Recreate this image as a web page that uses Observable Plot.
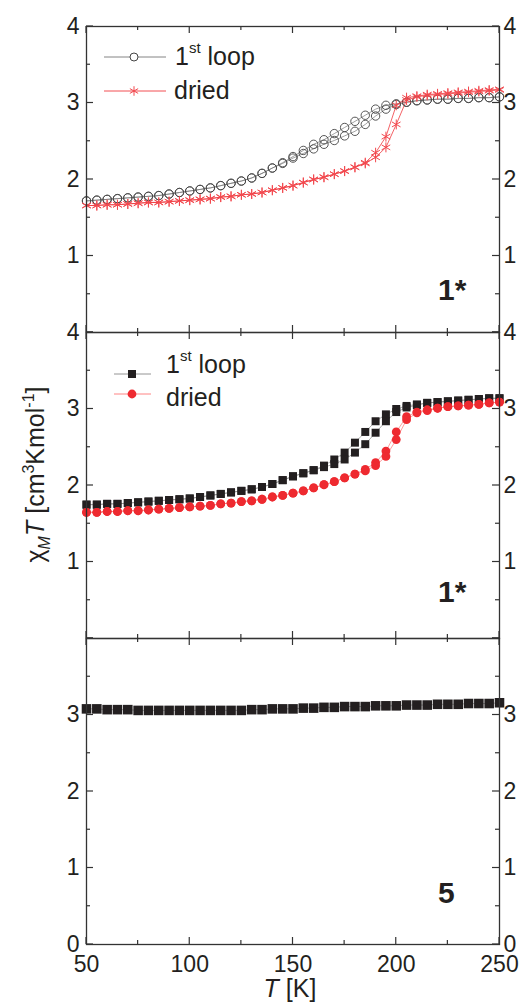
<!DOCTYPE html>
<html>
<head>
<meta charset="utf-8">
<script src="https://cdn.jsdelivr.net/npm/d3@7"></script>
<script src="https://cdn.jsdelivr.net/npm/@observablehq/plot@0.6"></script>
<style>
  body { margin: 0; background: #fff; }
  #wrap { position: relative; width: 525px; height: 1006px; overflow: hidden; background: #fff; }
  #wrap svg { position: absolute; left: 0; }
</style>
</head>
<body>
<div id="wrap"></div>
<script>
// ---------- data ----------
const T = [50,55,60,65,70,75,80,85,90,95,100,105,110,115,120,125,130,135,140,145,150,155,160,165,170,175,180,185,190,195,200,205,210,215,220,225,230,235,240,245,250];

// panel 1 (1*): 1st loop (open circles) and dried (asterisks); cooling and heating branches
const p1LoopCool  = [1.72,1.73,1.74,1.75,1.76,1.77,1.78,1.79,1.81,1.83,1.85,1.87,1.89,1.92,1.95,1.98,2.02,2.08,2.15,2.22,2.30,2.38,2.46,2.52,2.60,2.68,2.76,2.84,2.92,2.97,2.99,3.01,3.03,3.04,3.05,3.05,3.06,3.06,3.07,3.07,3.08];
const p1LoopHeat  = [1.72,1.73,1.74,1.75,1.76,1.77,1.78,1.79,1.81,1.83,1.85,1.87,1.89,1.92,1.95,1.98,2.02,2.08,2.15,2.21,2.28,2.34,2.40,2.46,2.51,2.57,2.63,2.72,2.83,2.92,2.98,3.01,3.03,3.04,3.05,3.05,3.06,3.06,3.07,3.07,3.08];
const p1DriedCool = [1.66,1.66,1.67,1.67,1.68,1.69,1.70,1.70,1.71,1.72,1.73,1.74,1.75,1.77,1.78,1.80,1.81,1.83,1.86,1.89,1.92,1.96,2.00,2.03,2.07,2.11,2.16,2.22,2.35,2.56,2.97,3.07,3.09,3.11,3.12,3.13,3.14,3.15,3.16,3.17,3.18];
const p1DriedHeat = [1.66,1.66,1.67,1.67,1.68,1.69,1.70,1.70,1.71,1.72,1.73,1.74,1.75,1.77,1.78,1.80,1.81,1.83,1.86,1.89,1.92,1.96,2.00,2.03,2.07,2.11,2.16,2.21,2.29,2.42,2.72,3.04,3.08,3.10,3.11,3.12,3.13,3.14,3.15,3.16,3.17];

// panel 2 (1*): 1st loop (filled squares) and dried (filled circles)
const p2LoopCool  = [1.75,1.75,1.76,1.76,1.77,1.78,1.79,1.80,1.81,1.82,1.83,1.85,1.87,1.89,1.91,1.93,1.95,1.98,2.02,2.07,2.12,2.16,2.20,2.26,2.34,2.43,2.56,2.70,2.84,2.93,3.00,3.04,3.06,3.08,3.09,3.10,3.11,3.12,3.13,3.14,3.14];
const p2LoopHeat  = [1.75,1.75,1.76,1.76,1.77,1.78,1.79,1.80,1.81,1.82,1.83,1.85,1.87,1.89,1.91,1.93,1.95,1.98,2.02,2.07,2.12,2.16,2.20,2.24,2.28,2.34,2.43,2.54,2.69,2.84,2.96,3.02,3.05,3.08,3.09,3.10,3.11,3.12,3.13,3.14,3.14];
const p2DriedCool = [1.65,1.65,1.66,1.66,1.67,1.67,1.68,1.69,1.70,1.71,1.72,1.73,1.74,1.76,1.77,1.79,1.80,1.82,1.85,1.87,1.90,1.93,1.97,2.01,2.05,2.10,2.15,2.21,2.30,2.45,2.70,2.90,2.96,2.99,3.01,3.03,3.04,3.05,3.06,3.08,3.09];
const p2DriedHeat = [1.65,1.65,1.66,1.66,1.67,1.67,1.68,1.69,1.70,1.71,1.72,1.73,1.74,1.76,1.77,1.79,1.80,1.82,1.85,1.87,1.90,1.93,1.97,2.01,2.05,2.10,2.15,2.19,2.26,2.38,2.60,2.86,2.95,2.98,3.01,3.03,3.04,3.05,3.06,3.08,3.09];

// panel 3 (5)
const p3Values = [3.08,3.08,3.07,3.07,3.07,3.06,3.06,3.06,3.06,3.06,3.06,3.06,3.06,3.06,3.06,3.06,3.07,3.07,3.08,3.08,3.08,3.09,3.09,3.10,3.10,3.11,3.11,3.11,3.12,3.12,3.12,3.13,3.13,3.13,3.14,3.14,3.14,3.15,3.15,3.15,3.16];

// tick labels
const xLabels = [50,100,150,200,250];
const p1YLabels = [1,2,3,4];
const p2YLabels = [1,2,3,4];
const p3YLabels = [0,1,2,3];
const xMajor = [50,100,150,200,250];
const xMinor = [75,125,175,225];
const yMajor = [0,1,2,3,4];
const yMinor = [0.5,1.5,2.5,3.5];

// ---------- helpers ----------
const INK = "#231f20";
const FONT = "'Liberation Sans', Arial, Helvetica, sans-serif";
const RED = "#ee2a30";
const fmt = d => String(d);

function loopRows(cool, heat) {
  const rows = [];
  for (let i = T.length - 1; i >= 0; i--) rows.push({T: T[i], v: cool[i]});
  for (let i = 0; i < T.length; i++) rows.push({T: T[i], v: heat[i]});
  return rows;
}

function panel({mt, mb, yLabels, withX, marks}) {
  const m = [
    ...marks,
    Plot.frame({stroke: "#333", strokeWidth: 1.3}),
    Plot.axisY(yLabels, {anchor: "left", tickSize: 0, tickPadding: 7, fontSize: 23, label: null, tickFormat: fmt}),
    Plot.axisY(yLabels, {anchor: "right", tickSize: 0, tickPadding: 4, fontSize: 23, label: null, tickFormat: fmt})
  ];
  if (withX) m.push(Plot.axisX(xLabels, {anchor: "bottom", tickSize: 0, tickPadding: 11, fontSize: 23, label: null, tickFormat: fmt}));
  const p = Plot.plot({
    width: 525, height: mt + 306 + mb,
    marginTop: mt, marginBottom: mb, marginLeft: 86, marginRight: 26,
    x: withX ? {domain: [50, 250]} : {domain: [50, 250], axis: null},
    y: {domain: [0, 4]},
    style: {background: "none", overflow: "visible", color: INK, fontFamily: FONT},
    marks: m
  });
  // inward ticks on all four sides, positioned by Plot's scales
  const x = p.scale("x"), y = p.scale("y");
  const [xl, xr] = x.range, [yb, yt] = y.range;
  const g = d3.select(p).append("g").attr("stroke", "#333").attr("stroke-width", 1.2);
  const tick = (x1, y1, x2, y2) => g.append("line").attr("x1", x1).attr("y1", y1).attr("x2", x2).attr("y2", y2);
  for (const t of yMajor) { const py = y.apply(t); tick(xl, py, xl + 7, py); tick(xr, py, xr - 7, py); }
  for (const t of yMinor) { const py = y.apply(t); tick(xl, py, xl + 4, py); tick(xr, py, xr - 4, py); }
  for (const t of xMajor) { const px = x.apply(t); tick(px, yb, px, yb - 7); tick(px, yt, px, yt + 7); }
  for (const t of xMinor) { const px = x.apply(t); tick(px, yb, px, yb - 4); tick(px, yt, px, yt + 4); }
  return p;
}

function addText(svg, x, y, parts, opts = {}) {
  const t = d3.select(svg).append("text").attr("x", x).attr("y", y)
    .attr("font-family", FONT).attr("font-size", opts.size || 25).attr("fill", INK)
    .attr("font-weight", opts.weight || "normal")
    .attr("text-anchor", opts.anchor || "start");
  if (opts.transform) t.attr("transform", opts.transform);
  for (const p of parts) {
    const s = t.append("tspan").text(p.text);
    if (p.dy) s.attr("dy", p.dy);
    if (p.size) s.attr("font-size", p.size);
    if (p.italic) s.attr("font-style", "italic");
  }
  return t;
}

function legendLine(svg, x1, x2, y, stroke) {
  d3.select(svg).append("line").attr("x1", x1).attr("x2", x2).attr("y1", y).attr("y2", y)
    .attr("stroke", stroke).attr("stroke-width", 0.9);
}
function legendSymbol(svg, cx, cy, type, r, fill, stroke) {
  d3.select(svg).append("path")
    .attr("d", d3.symbol(type, Math.PI * r * r)())
    .attr("transform", `translate(${cx},${cy})`)
    .attr("fill", fill).attr("stroke", stroke).attr("stroke-width", 1);
}

const wrap = document.getElementById("wrap");

// ---------- panel 1 ----------
const p1Loop = loopRows(p1LoopCool, p1LoopHeat);
const p1Dried = loopRows(p1DriedCool, p1DriedHeat);
const svg1 = panel({
  mt: 26, mb: 0, yLabels: p1YLabels, withX: false,
  marks: [
    Plot.line(p1Loop, {x: "T", y: "v", stroke: "#777", strokeWidth: 0.7}),
    Plot.line(p1Dried, {x: "T", y: "v", stroke: "#f03a3f", strokeWidth: 0.8}),
    Plot.dot(p1Loop, {x: "T", y: "v", r: 4.2, symbol: "circle", fill: "none", stroke: "#444", strokeWidth: 0.9}),
    Plot.dot(p1Dried, {x: "T", y: "v", r: 4.7, symbol: "asterisk", stroke: "#f2484e", strokeWidth: 1})
  ]
});
svg1.style.top = "0px";
wrap.appendChild(svg1);
legendLine(svg1, 104, 166, 57, "#777");
legendSymbol(svg1, 134, 57, d3.symbolCircle, 4, "#fff", "#444");
addText(svg1, 175, 65, [{text: "1"}, {text: "st", size: 15, dy: -12}, {text: " loop", dy: 12}]);
legendLine(svg1, 104, 166, 91, "#f03a3f");
legendSymbol(svg1, 134, 91, d3.symbolAsterisk, 4.5, "none", "#f2484e");
addText(svg1, 174, 99, [{text: "dried"}]);
addText(svg1, 438, 300, [{text: "1*"}], {size: 30, weight: "bold"});

// ---------- panel 2 ----------
const p2Loop = loopRows(p2LoopCool, p2LoopHeat);
const p2Dried = loopRows(p2DriedCool, p2DriedHeat);
const top2 = 312;
const svg2 = panel({
  mt: 20, mb: 0, yLabels: p2YLabels, withX: false,
  marks: [
    Plot.line(p2Loop, {x: "T", y: "v", stroke: "#888", strokeWidth: 0.7}),
    Plot.line(p2Dried, {x: "T", y: "v", stroke: "#f77", strokeWidth: 0.7}),
    Plot.dot(p2Loop, {x: "T", y: "v", r: 4.5, symbol: "square", fill: INK, stroke: "none"}),
    Plot.dot(p2Dried, {x: "T", y: "v", r: 4.4, symbol: "circle", fill: RED, stroke: "none"})
  ]
});
svg2.style.top = top2 + "px";
wrap.appendChild(svg2);
legendLine(svg2, 114, 151, 374 - top2, "#888");
legendSymbol(svg2, 132, 374 - top2, d3.symbolSquare, 4.5, INK, "none");
addText(svg2, 166, 373 - top2, [{text: "1"}, {text: "st", size: 15, dy: -12}, {text: " loop", dy: 12}]);
legendLine(svg2, 114, 151, 394 - top2, "#f77");
legendSymbol(svg2, 132, 394 - top2, d3.symbolCircle, 4.4, RED, "none");
addText(svg2, 166, 406 - top2, [{text: "dried"}]);
addText(svg2, 438, 602 - top2, [{text: "1*"}], {size: 30, weight: "bold"});
addText(svg2, 0, 0, [
  {text: "χ"}, {text: "M", size: 16, dy: 6, italic: true}, {text: "T", dy: -6, italic: true},
  {text: " [cm"}, {text: "3", size: 16, dy: -10}, {text: "Kmol", dy: 10},
  {text: "-1", size: 16, dy: -10}, {text: "]", dy: 10}
], {anchor: "middle", transform: `translate(44,${474.5 - top2}) rotate(-90)`});

// ---------- panel 3 ----------
const p3Rows = T.map((t, i) => ({T: t, v: p3Values[i]}));
const top3 = 618;
const svg3 = panel({
  mt: 20, mb: 62, yLabels: p3YLabels, withX: true,
  marks: [
    Plot.line(p3Rows, {x: "T", y: "v", stroke: "#888", strokeWidth: 0.7}),
    Plot.dot(p3Rows, {x: "T", y: "v", r: 5.4, symbol: "square", fill: INK, stroke: "none"})
  ]
});
svg3.style.top = top3 + "px";
wrap.appendChild(svg3);
addText(svg3, 438, 903 - top3, [{text: "5"}], {size: 30, weight: "bold"});
addText(svg3, 290, 997 - top3, [{text: "T", italic: true}, {text: " [K]"}], {anchor: "middle"});
</script>
</body>
</html>
